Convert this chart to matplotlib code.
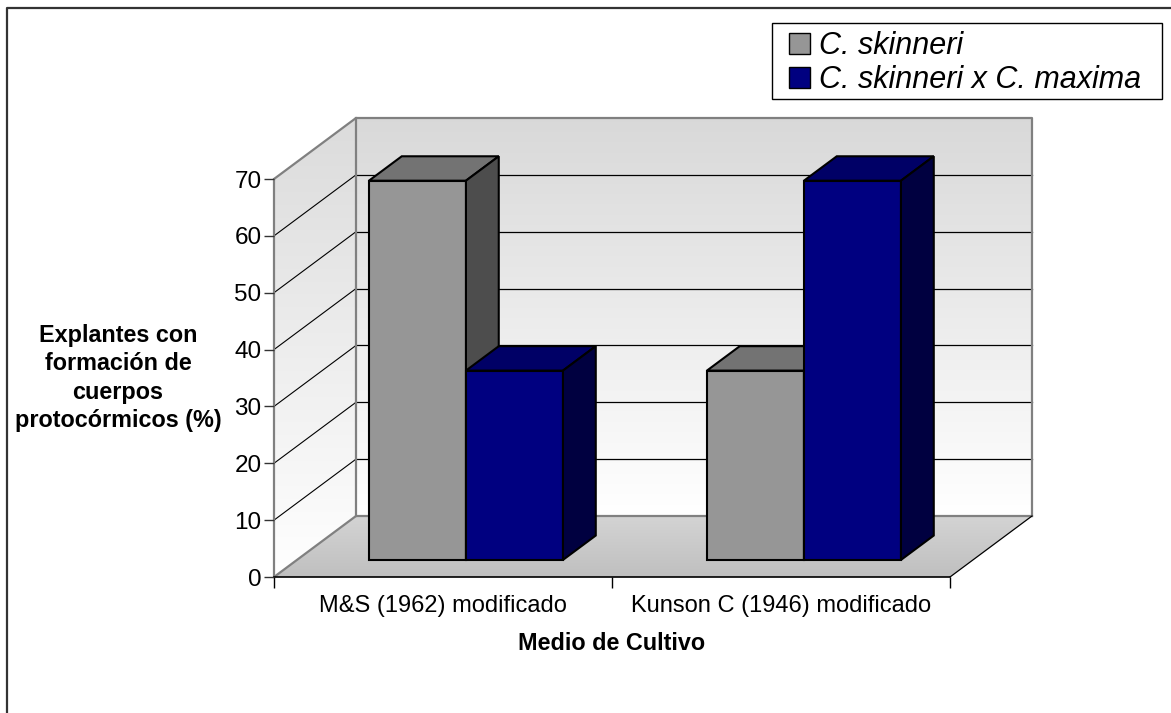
import numpy as np
import matplotlib
matplotlib.use('Agg')
import matplotlib.pyplot as plt
from matplotlib.patches import Polygon, Patch, Rectangle
from matplotlib.lines import Line2D

plt.rcParams['font.family'] = ['Liberation Sans', 'DejaVu Sans']

# ── Datos ──────────────────────────────────────────────────────────────────────
medios = ['M&S (1962) modificado', 'Kunson C (1946) modificado']
series = ['C. skinneri', 'C. skinneri x C. maxima']
skinneri = [66.7, 33.3]
hibrido = [33.3, 66.7]
y_ticks = [0, 10, 20, 30, 40, 50, 60, 70]

# ── Estilo / geometría (píxeles de la figura) ───────────────────────────────────
W, H, DPI = 1171, 713, 100
ORIG_X, ORIG_Y = 274, 577            # píxel del origen (0, 0)
PX_CAT = 338                         # píxeles por categoría
PX_VAL = 398 / 70                    # píxeles por unidad de valor
XLIM, YLIM = (0, 2.3), (0, 82)
DX, DY = 82 / PX_CAT, 61 / PX_VAL    # vector de profundidad del piso
D_FRONT, D_BACK = 0.28, 0.68         # profundidad de las barras
BAR_W = 0.287
Y_MAX = y_ticks[-1]
LEG_BOX = (772, 23, 1162, 99)        # caja de la leyenda (px)

cara = {'gris': ('#969696', '#737373', '#4d4d4d'),
        'azul': ('#000080', '#000066', '#000040')}

fig = plt.figure(figsize=(W / DPI, H / DPI), dpi=DPI)
ax = fig.add_axes([ORIG_X / W, (H - ORIG_Y) / H,
                   (XLIM[1] - XLIM[0]) * PX_CAT / W,
                   (YLIM[1] - YLIM[0]) * PX_VAL / H])
ax.patch.set_alpha(0)

n_cat = len(medios)


def degradado(extent, c0, c1, clip):
    # c0 abajo, c1 arriba
    g = np.linspace(c0, c1, 200).reshape(200, 1, 1) * np.ones((1, 1, 3))
    im = ax.imshow(g, extent=extent, origin='lower', aspect='auto',
                   interpolation='bilinear', zorder=0)
    poly = Polygon(clip, closed=True, facecolor='none', edgecolor='none',
                   transform=ax.transData)
    ax.add_patch(poly)
    im.set_clip_path(poly)


# paredes y piso
degradado([DX, n_cat + DX, DY, Y_MAX + DY], 1.0, 0.85,
          [(DX, DY), (n_cat + DX, DY), (n_cat + DX, Y_MAX + DY), (DX, Y_MAX + DY)])
degradado([0, DX, 0, Y_MAX + DY], 1.0, 0.86,
          [(0, 0), (DX, DY), (DX, Y_MAX + DY), (0, Y_MAX)])
degradado([0, n_cat + DX, 0, DY], 0.75, 0.83,
          [(0, 0), (n_cat, 0), (n_cat + DX, DY), (DX, DY)])

# líneas de división
for v in y_ticks[1:-1]:
    ax.plot([DX, n_cat + DX], [v + DY, v + DY], color='black', lw=0.9, zorder=1)
    ax.plot([0, DX], [v, v + DY], color='black', lw=0.8, zorder=1)

gris_borde = '#808080'
ax.plot([0, DX, n_cat + DX, n_cat + DX], [Y_MAX, Y_MAX + DY, Y_MAX + DY, DY],
        color=gris_borde, lw=1.6, zorder=1.5)
ax.plot([DX, DX], [DY, Y_MAX + DY], color=gris_borde, lw=1.6, zorder=1.5)
ax.plot([0, DX, n_cat + DX], [0, DY, DY], color=gris_borde, lw=1.6, zorder=1.5)
ax.plot([n_cat, n_cat + DX], [0, DY], color='black', lw=0.9, zorder=1.5)


def caja(x0, valor, colores, z):
    front, top, side = colores
    x1 = x0 + BAR_W
    ax.bar(x0 + D_FRONT * DX, valor, width=BAR_W, bottom=D_FRONT * DY,
           align='edge', color=front, edgecolor='black', lw=1.5, zorder=z)
    def p(x, y, d):
        return (x + d * DX, y + d * DY)
    ax.add_patch(Polygon([p(x0, valor, D_FRONT), p(x1, valor, D_FRONT),
                          p(x1, valor, D_BACK), p(x0, valor, D_BACK)],
                         closed=True, facecolor=top, edgecolor='black',
                         lw=1.5, joinstyle='miter', zorder=z))
    ax.add_patch(Polygon([p(x1, 0, D_FRONT), p(x1, valor, D_FRONT),
                          p(x1, valor, D_BACK), p(x1, 0, D_BACK)],
                         closed=True, facecolor=side, edgecolor='black',
                         lw=1.5, joinstyle='miter', zorder=z))


for i in range(n_cat):
    centro = i + 0.5
    caja(centro - BAR_W, skinneri[i], cara['gris'], 3)
    caja(centro, hibrido[i], cara['azul'], 4)

# ejes
ax.set_xlim(*XLIM)
ax.set_ylim(*YLIM)
for s in ['top', 'right']:
    ax.spines[s].set_visible(False)
ax.spines['left'].set_bounds(0, Y_MAX)
ax.spines['left'].set_color(gris_borde)
ax.spines['left'].set_linewidth(1.6)
ax.spines['bottom'].set_bounds(0, n_cat)
ax.spines['bottom'].set_linewidth(1.2)
ax.spines['left'].set_zorder(1.5)
ax.spines['bottom'].set_zorder(1.5)

ax.set_yticks(y_ticks)
ax.set_yticklabels([str(v) for v in y_ticks], fontsize=17.5)
ax.tick_params(axis='y', length=7, width=1, color='#333333', pad=2)

ax.set_xticks(range(n_cat + 1))
ax.set_xticklabels([''] * (n_cat + 1))
ax.tick_params(axis='x', which='major', length=8, width=1, color='black')
ax.set_xticks([i + 0.5 for i in range(n_cat)], minor=True)
ax.set_xticklabels(medios, minor=True, fontsize=17)
ax.tick_params(axis='x', which='minor', length=0, pad=13)

ax.set_xlabel('Medio de Cultivo', fontsize=16.8, fontweight='bold')
ax.xaxis.set_label_coords((612 - ORIG_X) / (XLIM[1] * PX_CAT), -(643 - ORIG_Y) / (YLIM[1] * PX_VAL))
ax.xaxis.label.set_va('center')
ax.set_ylabel('Explantes con\nformación de\ncuerpos\nprotocórmicos (%)',
              fontsize=16.8, fontweight='bold', rotation=0,
              ha='center', va='center', linespacing=1.3)
ax.yaxis.set_label_coords((118 - ORIG_X) / (XLIM[1] * PX_CAT), (ORIG_Y - 378) / (YLIM[1] * PX_VAL))

# leyenda
lx0, ly0, lx1, ly1 = LEG_BOX
handles = [Patch(facecolor=cara['gris'][0], edgecolor='black', lw=1),
           Patch(facecolor=cara['azul'][0], edgecolor='black', lw=1)]
leg = fig.legend(handles, series, loc='center',
                 bbox_to_anchor=((lx0 + lx1) / 2 / W - 2 / W, 1 - ((ly0 + ly1) / 2 + 2) / H),
                 bbox_transform=fig.transFigure,
                 prop={'size': 22, 'style': 'italic'}, frameon=False,
                 borderaxespad=0, handlelength=0.68, handleheight=0.68,
                 handletextpad=0.3, borderpad=0, labelspacing=0.12)
fig.add_artist(Rectangle((lx0 / W, 1 - ly1 / H), (lx1 - lx0) / W, (ly1 - ly0) / H,
                         transform=fig.transFigure, facecolor='none',
                         edgecolor='black', lw=1))

# marco
fig.add_artist(Line2D([7 / W, 7 / W, 1], [0, 1 - 8 / H, 1 - 8 / H],
                      transform=fig.transFigure, color='#333333', lw=1.6))

fig.savefig('out.png', dpi=DPI)
